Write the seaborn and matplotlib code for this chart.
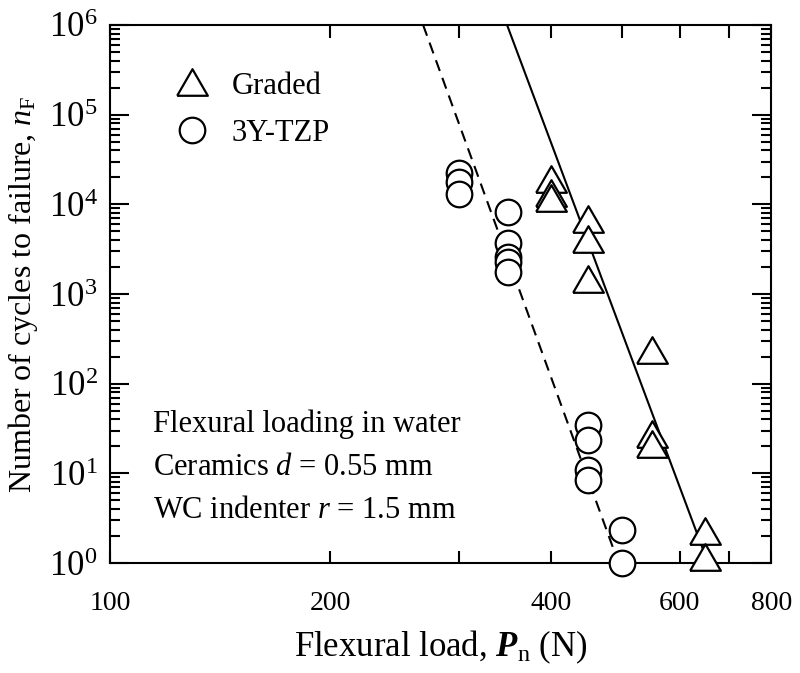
import numpy as np
import pandas as pd
import matplotlib
matplotlib.use("Agg")
import matplotlib.pyplot as plt
from matplotlib.ticker import FixedLocator, FixedFormatter, LogLocator, NullFormatter
from matplotlib.lines import Line2D
import seaborn as sns

# ---- data ----
graded_load = [400, 400, 400, 450, 450, 450, 550, 550, 550, 650, 650]
graded_cycles = [18600, 13200, 11500, 6660, 3990, 1430, 231, 26.7, 20.7, 2.2, 1.15]

tzp_load = [300, 300, 300, 350, 350, 350, 350, 350, 450, 450, 450, 450, 500, 500]
tzp_cycles = [22300, 17700, 13000, 8190, 3690, 2580, 2250, 1770, 34.5, 23.5, 10.9, 8.4, 2.33, 1]

# fitted power-law lines (end points)
graded_fit_load = [348.6, 656]
graded_fit_cycles = [1e6, 1]
tzp_fit_load = [267.7, 495]
tzp_fit_cycles = [1e6, 1]

x_ticks = [100, 200, 300, 400, 500, 600, 700, 800]
x_ticklabels = ["100", "200", "", "400", "", "600", "", "800"]

notes = ["Flexural loading in water",
         "Ceramics $d$ = 0.55 mm",
         "WC indenter $r$ = 1.5 mm"]

# ---- style ----
sns.set_style("ticks")
plt.rcParams["font.family"] = ["Liberation Serif", "DejaVu Serif"]
plt.rcParams["mathtext.fontset"] = "custom"
plt.rcParams["mathtext.rm"] = "Liberation Serif"
plt.rcParams["mathtext.it"] = "Liberation Serif:italic"
plt.rcParams["mathtext.bf"] = "Liberation Serif:bold:italic"
for k in ["text.color", "axes.labelcolor", "xtick.color", "ytick.color", "axes.edgecolor"]:
    plt.rcParams[k] = "black"

df_g = pd.DataFrame({"load": graded_load, "cycles": graded_cycles})
df_t = pd.DataFrame({"load": tzp_load, "cycles": tzp_cycles})

fig = plt.figure(figsize=(8, 6.73), dpi=100)
ax = fig.add_axes([0.1375, 0.1634, 0.8265, 0.7995])
ax.set_xscale("log")
ax.set_yscale("log")

# fit lines
sns.lineplot(x=graded_fit_load, y=graded_fit_cycles, ax=ax, color="black", lw=1.5, zorder=2)
sns.lineplot(x=tzp_fit_load, y=tzp_fit_cycles, ax=ax, color="black", lw=1.5,
             linestyle=(0, (5.5, 3.5)), zorder=2)

tri = [(-1, -0.8), (1, -0.8), (0, 0.93), (-1, -0.8)]
sns.scatterplot(data=df_g, x="load", y="cycles", ax=ax, marker=tri, s=490,
                facecolor="white", edgecolor="black", linewidth=1.6, zorder=3, clip_on=False)
sns.scatterplot(data=df_t, x="load", y="cycles", ax=ax, marker="o", s=340,
                facecolor="white", edgecolor="black", linewidth=1.6, zorder=3, clip_on=False)

ax.set_xlim(100, 800)
ax.set_ylim(1, 1e6)

# ticks
ax.xaxis.set_major_locator(FixedLocator(x_ticks))
ax.xaxis.set_major_formatter(FixedFormatter(x_ticklabels))
ax.xaxis.set_minor_locator(FixedLocator([]))
ax.yaxis.set_major_locator(LogLocator(base=10, numticks=10))
ax.yaxis.set_minor_locator(LogLocator(base=10, subs=np.arange(2, 10), numticks=10))
ax.yaxis.set_minor_formatter(NullFormatter())

ax.tick_params(axis="x", which="major", direction="in", top=True, length=9, width=1.5,
               labelsize=20, pad=20)
ax.tick_params(axis="y", which="major", direction="in", right=True, length=14, width=1.5,
               labelsize=25, pad=9)
ax.tick_params(axis="y", which="minor", direction="in", right=True, length=7, width=1.5)
for sp in ax.spines.values():
    sp.set_linewidth(1.5)
    sp.set_visible(True)
    sp.set_color("black")

ax.set_xlabel(r"Flexural load, $\mathbf{P}_{\mathrm{n}}$ (N)", fontsize=25, labelpad=9)
ax.set_ylabel(r"Number of cycles to failure, $n_{\mathrm{F}}$", fontsize=23, labelpad=6)

# legend
handles = [Line2D([], [], marker=tri, ls="none", ms=22.1, mfc="white", mec="black", mew=1.6),
           Line2D([], [], marker="o", ls="none", ms=18.4, mfc="white", mec="black", mew=1.6)]
ax.legend(handles, ["Graded", "3Y-TZP"], loc="upper left", bbox_to_anchor=(0.101, 0.913),
          frameon=False, fontsize=22, handlelength=1.0, handletextpad=0.8,
          labelspacing=0.6, borderpad=0, borderaxespad=0)

# notes
for txt, yy in zip(notes, [0.2435, 0.1636, 0.0836]):
    ax.text(0.065, yy, txt, transform=ax.transAxes, fontsize=22, va="baseline", ha="left",
            color="black")

fig.savefig("out.png", dpi=100)
